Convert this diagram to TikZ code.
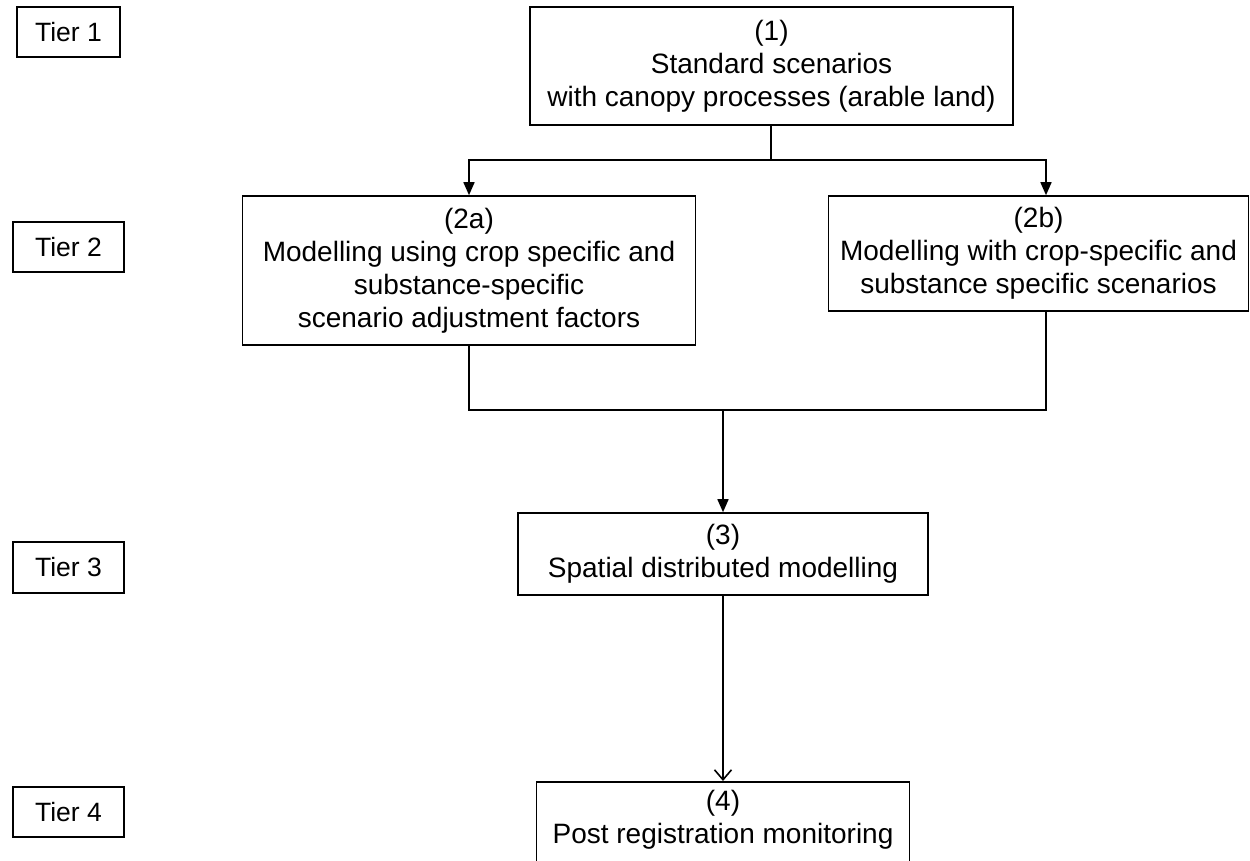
\documentclass[tikz,border=0pt]{standalone}
\usepackage{fontspec}
\setmainfont{Liberation Sans}
\usetikzlibrary{arrows.meta}
\begin{document}
\begin{tikzpicture}[x=1pt,y=-1pt,
  box/.style={draw, line width=1.6pt, inner sep=0pt, align=center, font=\fontsize{28}{33}\selectfont},
  tier/.style={draw, line width=1.6pt, inner sep=0pt, font=\fontsize{26.5}{30}\selectfont},
  conn/.style={line width=1.6pt},
  arr/.style={line width=1.6pt, -{Triangle[length=13pt,width=11pt]}},
  oarr/.style={line width=1.6pt, -{Straight Barb[length=10pt,width=17pt]}}]
\useasboundingbox (0,0) rectangle (1250,860);
\clip (0,0) rectangle (1250,860);
% tier labels
\node[tier, minimum width=103pt, minimum height=50pt] (t1) at (68.5,32) {Tier 1};
\node[tier, minimum width=111pt, minimum height=50pt] (t2) at (68.5,247) {Tier 2};
\node[tier, minimum width=111pt, minimum height=51pt] (t3) at (68.5,567.5) {Tier 3};
\node[tier, minimum width=111pt, minimum height=50pt] (t4) at (68.5,812) {Tier 4};
% main boxes
\node[box, minimum width=483pt, minimum height=118pt] (b1) at (771.5,66)
  {(1)\\Standard scenarios\\with canopy processes (arable land)};
\node[box, minimum width=453pt, minimum height=149pt] (b2a) at (469,270.5)
  {(2a)\\Modelling using crop specific and\\substance-specific\\scenario adjustment factors};
\node[box, minimum width=420pt, minimum height=115pt] (b2b) at (1038.5,253.5)
  {(2b)\\Modelling with crop-specific and\\substance specific scenarios};
\node[box, minimum width=410pt, minimum height=82pt] (b3) at (723,554)
  {(3)\\Spatial distributed modelling};
\node[box, minimum width=373pt, anchor=north, inner ysep=8pt, text depth=60pt] (b4) at (723,781)
  {(4)\\Post registration monitoring};
% connectors
\coordinate (j1) at (771,160);
\coordinate (j2) at (723,410);
\draw[conn] (b1.south -| j1) -- (j1);
\draw[arr] (j1) -| (b2a.north);
\draw[arr] (j1) -| ([xshift=7.5pt]b2b.north);
\draw[conn] (b2a.south) |- (j2);
\draw[conn] ([xshift=7.5pt]b2b.south) |- (j2);
\draw[arr] (j2) -- (b3.north);
\draw[oarr] (b3.south) -- (b4.north);
\end{tikzpicture}
\end{document}
